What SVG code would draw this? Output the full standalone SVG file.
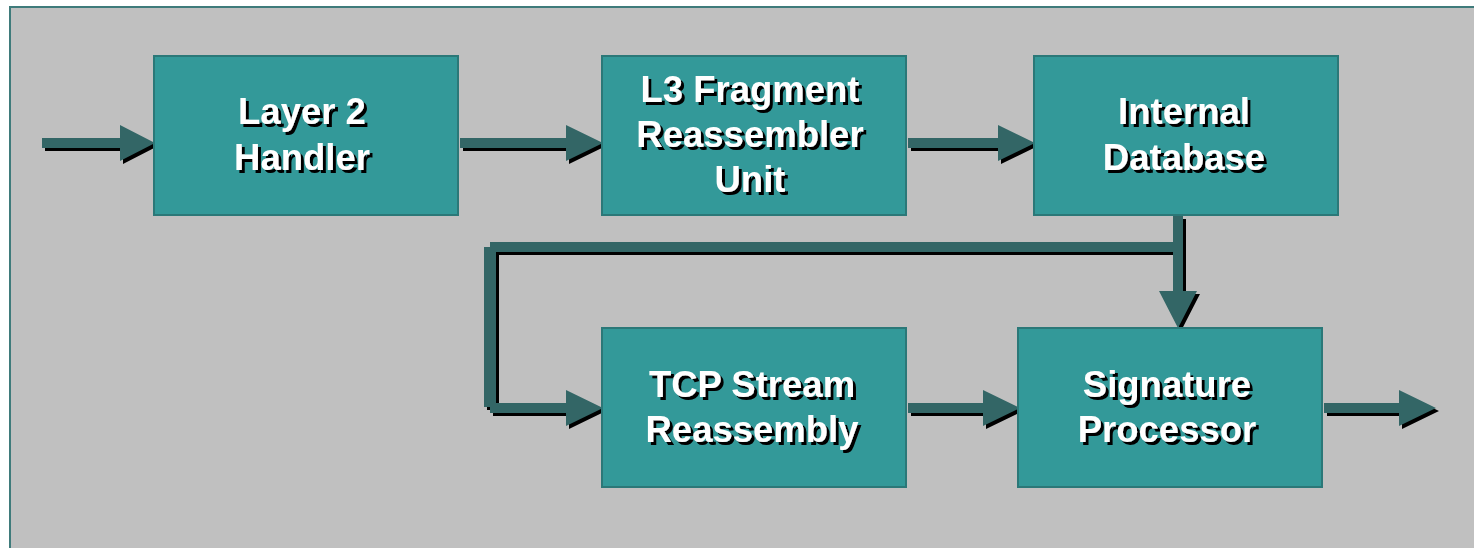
<svg xmlns="http://www.w3.org/2000/svg" xmlns:xlink="http://www.w3.org/1999/xlink" width="1474" height="548" viewBox="0 0 1474 548">
  <style>
    .panel { fill: #c0c0c0; stroke: #3f7b7b; stroke-width: 2; }
    .box { fill: #339999; stroke: #2b7878; stroke-width: 2; }
    .lbl { font-family: "Liberation Sans", Arial, sans-serif; font-weight: bold; font-size: 36.5px; text-anchor: middle; fill: #ffffff; filter: url(#textShadow); }
  </style>
  <defs>
    <!-- black drop shadow behind the white labels -->
    <filter id="textShadow" x="-10%" y="-20%" width="120%" height="140%">
      <feFlood flood-color="#000000" result="ink"/>
      <feComposite in="ink" in2="SourceAlpha" operator="in" result="mask"/>
      <feOffset in="mask" dx="3" dy="3" result="shadow"/>
      <feMerge>
        <feMergeNode in="shadow"/>
        <feMergeNode in="SourceGraphic"/>
      </feMerge>
    </filter>
    <!-- connector shapes; fill comes from each <use> -->
    <path id="a1" d="M42,138 H120 V125 L155,143 L120,161 V148 H42 Z"/>
    <path id="a2" d="M460,138 H566 V125 L603,143 L566,161 V148 H460 Z"/>
    <path id="a3" d="M908,138 H998 V125 L1035,143 L998,161 V148 H908 Z"/>
    <path id="a4" d="M908,403 H983 V390 L1020,408 L983,426 V413 H908 Z"/>
    <path id="a5" d="M1324,403 H1399 V390 L1436,408 L1399,426 V413 H1324 Z"/>
    <path id="a6" d="M1173,216 H1183 V291 H1197 L1178,328 L1159,291 H1173 Z"/>
    <path id="a7" d="M490,242 H1183 V252 H490 Z M484,247 H496 V407 H484 Z M490,403 H566 V390 L603,408 L566,426 V413 H490 Z"/>
  </defs>

  <rect class="panel" x="10" y="7" width="1474" height="552"/>

  <g id="connectors">
    <g fill="#000000" transform="translate(3,3)">
      <use xlink:href="#a1"/><use xlink:href="#a2"/><use xlink:href="#a3"/>
      <use xlink:href="#a4"/><use xlink:href="#a5"/><use xlink:href="#a6"/><use xlink:href="#a7"/>
    </g>
    <g fill="#336666">
      <use xlink:href="#a1"/><use xlink:href="#a2"/><use xlink:href="#a3"/>
      <use xlink:href="#a4"/><use xlink:href="#a5"/><use xlink:href="#a6"/><use xlink:href="#a7"/>
    </g>
  </g>

  <g id="layer2-handler">
    <rect class="box" x="154" y="56" width="304" height="159"/>
    <text class="lbl" x="302" y="124"><tspan x="302">Layer 2</tspan><tspan x="302" dy="46">Handler</tspan></text>
  </g>

  <g id="l3-fragment-reassembler">
    <rect class="box" x="602" y="56" width="304" height="159"/>
    <text class="lbl" x="750" y="102"><tspan x="750">L3 Fragment</tspan><tspan x="750" dy="45">Reassembler</tspan><tspan x="750" dy="45">Unit</tspan></text>
  </g>

  <g id="internal-database">
    <rect class="box" x="1034" y="56" width="304" height="159"/>
    <text class="lbl" x="1184" y="124"><tspan x="1184">Internal</tspan><tspan x="1184" dy="46">Database</tspan></text>
  </g>

  <g id="tcp-stream-reassembly">
    <rect class="box" x="602" y="328" width="304" height="159"/>
    <text class="lbl" x="752" y="397"><tspan x="752">TCP Stream</tspan><tspan x="752" dy="45">Reassembly</tspan></text>
  </g>

  <g id="signature-processor">
    <rect class="box" x="1018" y="328" width="304" height="159"/>
    <text class="lbl" x="1167" y="397"><tspan x="1167">Signature</tspan><tspan x="1167" dy="45">Processor</tspan></text>
  </g>
</svg>
